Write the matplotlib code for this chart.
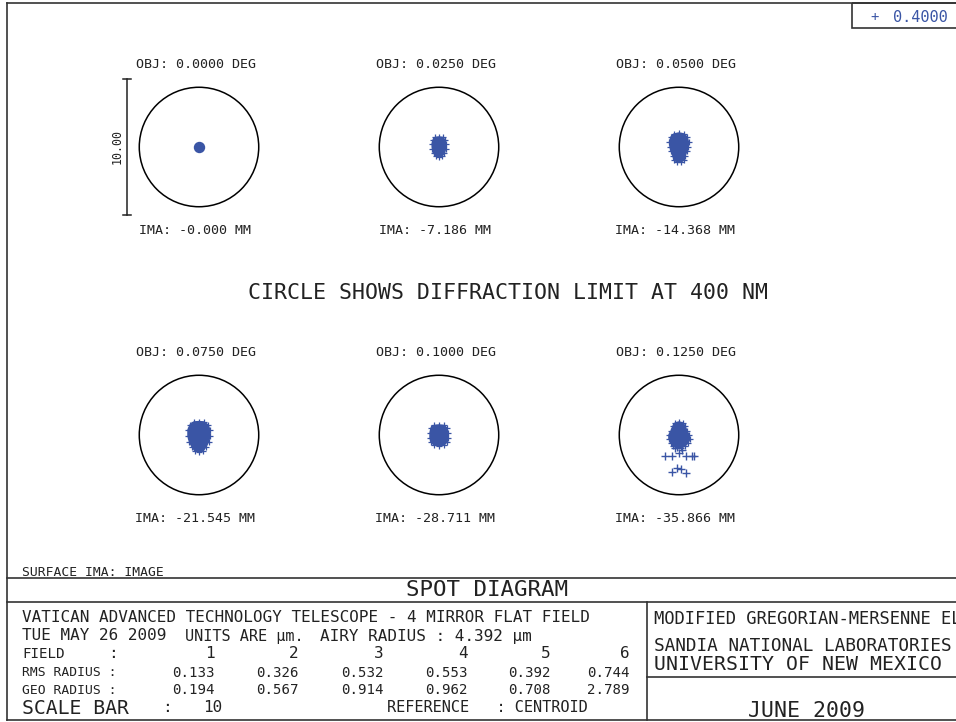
import matplotlib
matplotlib.use("Agg")
import matplotlib.pyplot as plt
from matplotlib.patches import Circle, Polygon, Rectangle
from matplotlib.lines import Line2D

FONT = "DejaVu Sans Mono"
INK = "#222222"
SPOT_BLUE = "#3a55a5"

W, H = 956, 722
PX_PER_UM = 13.6

AIRY_RADIUS = 4.392     # um
SCALE_BAR = 10.0        # um
WAVELENGTH_UM = 0.4000

FIELD_ANGLES = [0.0000, 0.0250, 0.0500, 0.0750, 0.1000, 0.1250]
IMAGE_HEIGHTS = [-0.000, -7.186, -14.368, -21.545, -28.711, -35.866]
RMS_RADIUS = [0.133, 0.326, 0.532, 0.553, 0.392, 0.744]
GEO_RADIUS = [0.194, 0.567, 0.914, 0.962, 0.708, 2.789]

# spot footprints, um relative to the chief-ray centroid (None = single dot)
SPOT_X = [
    None,
    [0, -0.29, -0.44, -0.51, -0.48, -0.40, -0.22, 0, 0.22, 0.40, 0.48, 0.51, 0.44, 0.29],
    [0, -0.37, -0.59, -0.70, -0.66, -0.59, -0.44, -0.37, -0.15, 0.15, 0.37, 0.44, 0.59,
     0.66, 0.70, 0.59, 0.37],
    [0, -0.37, -0.66, -0.81, -0.81, -0.70, -0.51, -0.29, 0, 0.29, 0.51, 0.70, 0.81, 0.81,
     0.66, 0.37],
    [0, -0.37, -0.59, -0.66, -0.66, -0.59, -0.37, 0, 0.37, 0.59, 0.66, 0.66, 0.59, 0.37],
    [0, -0.29, -0.44, -0.59, -0.74, -0.74, -0.59, -0.44, -0.15, 0.15, 0.44, 0.66, 0.81,
     0.74, 0.59, 0.44, 0.29],
]
SPOT_Y = [
    None,
    [0.74, 0.70, 0.51, 0.22, -0.15, -0.44, -0.66, -0.70, -0.66, -0.44, -0.15, 0.22, 0.51, 0.70],
    [1.03, 0.96, 0.74, 0.37, 0, -0.29, -0.66, -0.96, -1.10, -1.10, -0.96, -0.66, -0.29,
     0, 0.37, 0.74, 0.96],
    [0.99, 0.96, 0.74, 0.37, -0.07, -0.51, -0.88, -1.18, -1.25, -1.18, -0.88, -0.51, -0.07,
     0.37, 0.74, 0.96],
    [0.74, 0.70, 0.51, 0.15, -0.22, -0.51, -0.74, -0.81, -0.74, -0.51, -0.22, 0.15, 0.51, 0.70],
    [0.96, 0.88, 0.66, 0.29, 0, -0.29, -0.59, -0.81, -0.96, -0.96, -0.81, -0.59, -0.29,
     0, 0.29, 0.66, 0.88],
]
# isolated rays below the core of field 6
STRAY_X = [-1.03, -0.51, 0, 0.51, 0.96, 1.10, -0.29, 0.22, -0.55, -0.18, 0.18, 0.55]
STRAY_Y = [-1.54, -1.54, -1.32, -1.54, -1.54, -1.54, -0.96, -1.10, -2.72, -2.43, -2.50, -2.79]

# centres of the six diagrams on the page (px)
CENTERS = [(199, 147), (439, 147), (679, 147), (199, 435), (439, 435), (679, 435)]

fig = plt.figure(figsize=(W / 100, H / 100), dpi=100)
bg = fig.add_axes([0, 0, 1, 1])
bg.set_xlim(0, W)
bg.set_ylim(H, 0)
bg.axis("off")


def txt(x, y, s, size, ha="left", color=INK, **kw):
    bg.text(x, y, s, fontsize=size, ha=ha, va="center", family=FONT,
            color=color, **kw)


def hline(y, x0, x1, lw=1.2):
    bg.add_line(Line2D([x0, x1], [y, y], color="#333333", lw=lw))


def vline(x, y0, y1, lw=1.2):
    bg.add_line(Line2D([x, x], [y0, y1], color="#333333", lw=lw))


# page frame and title block
hline(3, 7, W + 5)
vline(7, 3, 720)
hline(720, 7, W + 5)
hline(578, 7, W + 5)
hline(602, 7, W + 5)
vline(647, 602, 720)
hline(677, 647, W + 5)
bg.add_patch(Rectangle((852, 3), 110, 25, fill=False, ec="#333333", lw=1.2))
txt(870, 17, "+", 10, color=SPOT_BLUE)
txt(893, 17, f"{WAVELENGTH_UM:.4f}", 11, color=SPOT_BLUE)

half = 120
for i, (cx, cy) in enumerate(CENTERS):
    ax = fig.add_axes([(cx - half) / W, (H - cy - half) / H, 2 * half / W, 2 * half / H])
    lim = half / PX_PER_UM
    ax.set_xlim(-lim, lim)
    ax.set_ylim(-lim, lim)
    ax.axis("off")
    ax.add_patch(Circle((0, 0), AIRY_RADIUS, fill=False, ec="black", lw=1.1))
    if SPOT_X[i] is None:
        ax.plot([0], [0], "o", ms=7.2, color=SPOT_BLUE, mec=SPOT_BLUE)
    else:
        xy = list(zip(SPOT_X[i], SPOT_Y[i]))
        ax.add_patch(Polygon(xy, closed=True, fc=SPOT_BLUE, ec=SPOT_BLUE, lw=1.0))
        ax.plot(SPOT_X[i], SPOT_Y[i], "+", ms=4, mew=0.9, color=SPOT_BLUE)
    if i == 5:
        ax.plot(STRAY_X, STRAY_Y, "+", ms=6, mew=1.0, color=SPOT_BLUE)
    if i == 0:
        # scale bar at the left of the first diagram
        xb = -5.3
        ax.plot([xb, xb], [-SCALE_BAR / 2, SCALE_BAR / 2], color=INK, lw=1.1, clip_on=False)
        for yb in (-SCALE_BAR / 2, SCALE_BAR / 2):
            ax.plot([xb - 0.3, xb + 0.3], [yb, yb], color=INK, lw=1.1, clip_on=False)
        ax.text(xb - 0.72, 0, f"{SCALE_BAR:.2f}", rotation=90, ha="center", va="center",
                fontsize=8.4, family=FONT, color=INK, clip_on=False)

    txt(cx - 3, cy - 82, f"OBJ: {FIELD_ANGLES[i]:.4f} DEG", 9.6, ha="center")
    txt(cx - 4, cy + 83, f"IMA: {IMAGE_HEIGHTS[i]:.3f} MM", 9.6, ha="center")

txt(508, 293, f"CIRCLE SHOWS DIFFRACTION LIMIT AT {WAVELENGTH_UM * 1000:.0f} NM", 15.5, ha="center")

# title block text
txt(22, 572, "SURFACE IMA: IMAGE", 9.4)
txt(487, 590, "SPOT DIAGRAM", 16.2, ha="center")
txt(22, 618, "VATICAN ADVANCED TECHNOLOGY TELESCOPE - 4 MIRROR FLAT FIELD", 11.5)
txt(22, 636, "TUE MAY 26 2009", 11.5)
txt(185, 636, "UNITS ARE µm.", 11.0)
txt(320, 636, f"AIRY RADIUS : {AIRY_RADIUS:.3f} µm", 11.5)

cols = [215, 299, 384, 468, 551, 630]
txt(22, 654, "FIELD", 10.2)
txt(108, 654, ":", 11.5)
txt(22, 673, "RMS RADIUS :", 9.4)
txt(22, 690, "GEO RADIUS :", 9.4)
for k, xc in enumerate(cols):
    txt(xc, 654, f"{k + 1}", 11.5, ha="right")
    txt(xc, 673, f"{RMS_RADIUS[k]:.3f}", 10.2, ha="right")
    txt(xc, 690, f"{GEO_RADIUS[k]:.3f}", 10.2, ha="right")
txt(22, 708, "SCALE BAR", 14.2)
txt(162, 708, ":", 11.5)
txt(222, 708, f"{SCALE_BAR:.0f}", 11.5, ha="right")
txt(387, 708, "REFERENCE   : CENTROID", 11.0)

txt(654, 619, "MODIFIED GREGORIAN-MERSENNE ELT", 12.3)
txt(654, 646, "SANDIA NATIONAL LABORATORIES", 12.8)
txt(654, 665, "UNIVERSITY OF NEW MEXICO", 14.3)
txt(807, 711, "JUNE 2009", 15.5, ha="center")

fig.savefig("out.png", dpi=100)
